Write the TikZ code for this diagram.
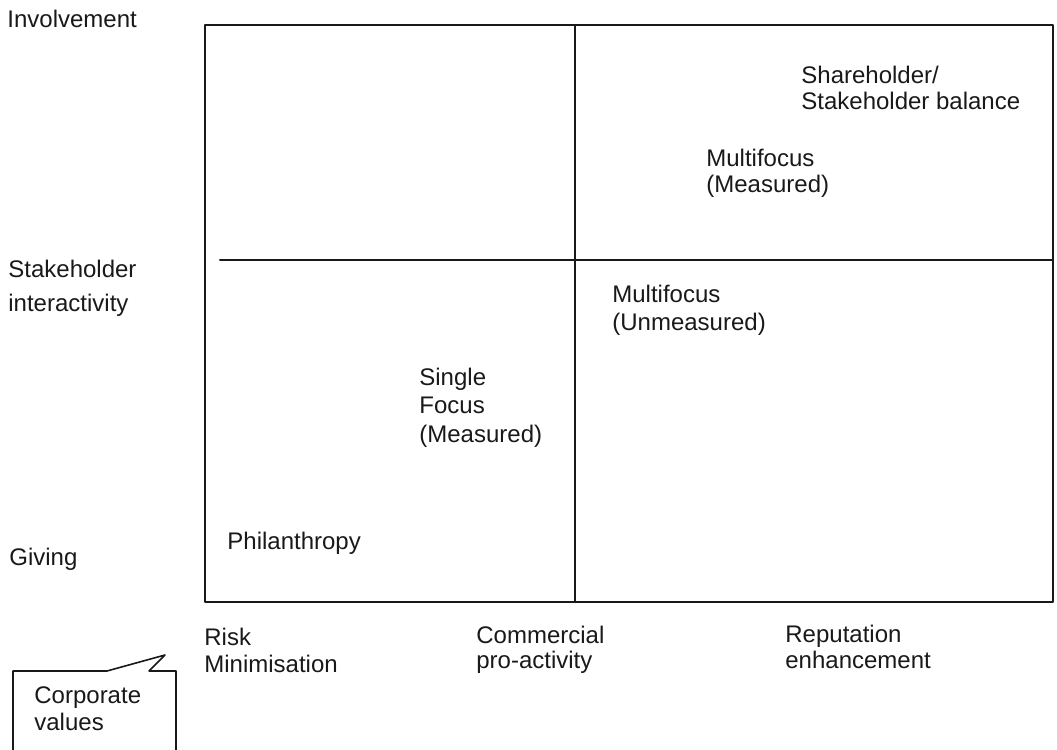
\documentclass[tikz,border=0pt]{standalone}
\usepackage{fontspec}
\setmainfont{Liberation Sans}
\begin{document}
\begin{tikzpicture}[x=0.5pt, y=-0.5pt, line join=round, line cap=round,
	lbl/.style={anchor=base west, inner sep=0pt, align=left, text=black!90,
		font=\fontsize{12}{#1}\selectfont},
	lbl/.default=13.5]
	\def\ink{black!90}
	\useasboundingbox (0,0) rectangle (1057,750);
	\clip (0,0) rectangle (1057,750);
	% grid of the matrix
	\draw[line width=1pt, \ink] (205,25) rectangle (1053,602);
	\draw[line width=1pt, \ink] (575,25)--(575,602) (220,260)--(1053,260);
	% callout, cut at the page edge
	\draw[line width=0.8pt, \ink] (13,770)--(13,671)--(107,671)--(165,655)--(149,671)--(176,671)--(176,770);
	% axis labels (placed at the baseline of their last line)
	\node[lbl] (involve) at (7,27) {Involvement};
	\node[lbl=17] (interact) at (8,311) {Stakeholder\\interactivity};
	\node[lbl] (giving) at (9,565) {Giving};
	\node[lbl] (risk) at (204,672) {Risk\\Minimisation};
	\node[lbl=12.5] (commerce) at (476,668) {Commercial\\pro-activity};
	\node[lbl=13] (reput) at (785,668) {Reputation\\enhancement};
	\node[lbl] (values) at (34,730) {Corporate\\values};
	% cells
	\node[lbl=13] (share) at (801,109) {Shareholder/\\Stakeholder balance};
	\node[lbl=13] (multim) at (706,192) {Multifocus\\(Measured)};
	\node[lbl=14] (multiu) at (612,330) {Multifocus\\(Unmeasured)};
	\node[lbl=14.25] (single) at (419,442) {Single\\Focus\\(Measured)};
	\node[lbl] (phil) at (227,549) {Philanthropy};
\end{tikzpicture}
\end{document}
